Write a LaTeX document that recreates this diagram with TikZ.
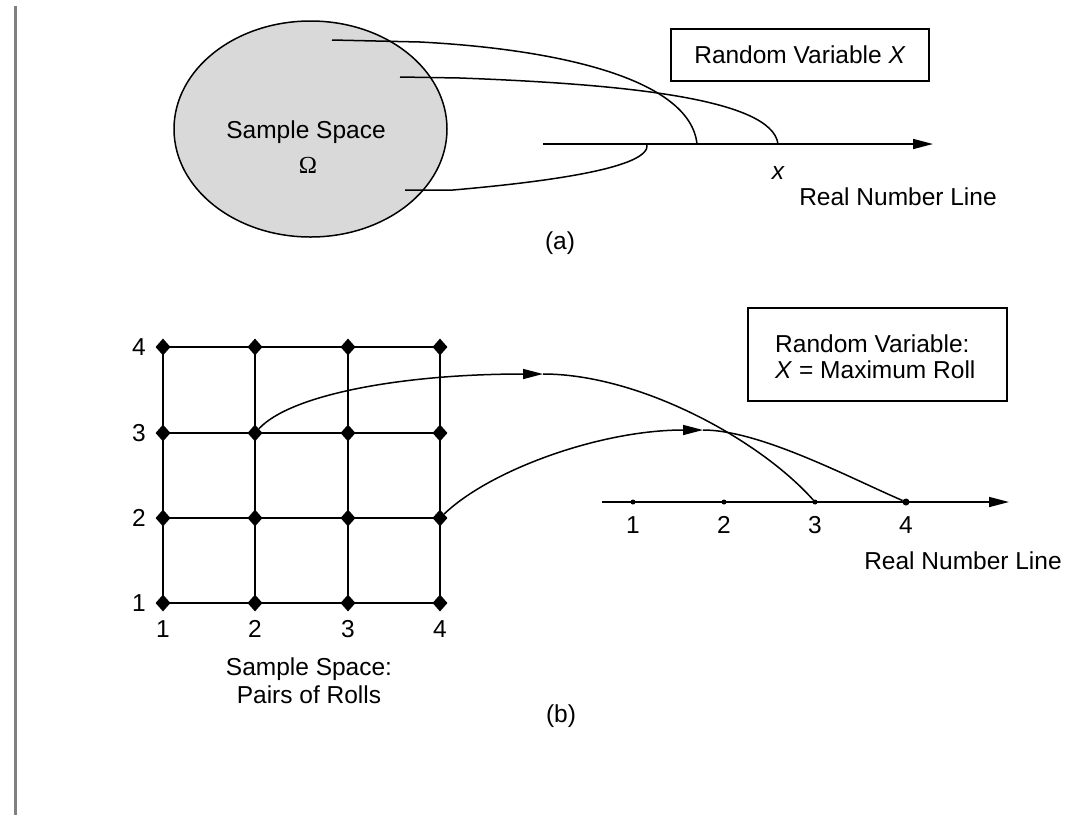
\documentclass[tikz,border=0pt]{standalone}
\usepackage{fontspec}
\setmainfont{Liberation Sans}
\newfontfamily\greekfont{Liberation Serif}
\usetikzlibrary{arrows.meta,shapes.geometric}
\begin{document}
\begin{tikzpicture}[x=1pt,y=-1pt,
  every node/.style={font=\fontsize{24.5}{27}\selectfont, inner sep=0pt},
  thin line/.style={line width=1.5pt},
  grid line/.style={line width=2pt},
  tip/.style={-{Triangle[length=20pt,width=10pt]}},
  label box/.style={draw, line width=1.6pt},
  gridpt/.style={shape=diamond, fill=black, minimum width=15pt, minimum height=17pt},
  tick/.style={shape=circle, fill=black, minimum size=5pt},
  bigtick/.style={shape=circle, fill=black, minimum size=7pt}]
\useasboundingbox (0,0) rectangle (1075,815);

% margin rule on the left
\fill[black!50] (14,6) rectangle (17.3,815);

% ---------------- (a) ----------------
\draw[thin line, fill=black!15] (310.5,129) ellipse [x radius=136.5, y radius=108];
\node[anchor=base] (ss) at (306,138) {Sample Space};
\node[anchor=base] (om) at (308,173) {\greekfont Ω};

% real number line
\coordinate (la) at (543,144);
\coordinate (ra) at (933,144);
\draw[thin line, tip] (la) -- (ra);
\coordinate (xa) at (697,144);
\coordinate (xb) at (778,144);
\coordinate (xc) at (647,144);

% outcomes mapped onto the line
\coordinate (w1) at (332,40);
\coordinate (w2) at (400,77);
\coordinate (w3) at (405,190);
\draw[thin line] (w1) -- (420,42) .. controls (555,49) and (690,78) .. (xa);
\draw[thin line] (w2) -- (460,78) .. controls (620,84) and (772,98) .. (xb);
\draw[thin line] (w3) -- (453,190) .. controls (545,182) and (652,168) .. (xc);

\node[font=\fontsize{24.5}{27}\selectfont\itshape] (xl) at (778,173) {x};
\node (rnla) at (898,197) {Real Number Line};
\node (capa) at (560,243) {(a)};

\node[label box, minimum width=258pt, minimum height=52pt] (rva) at (800,55) {Random Variable \textit{X}};

% ---------------- (b) ----------------
% grid of outcome pairs
\foreach \i/\x in {1/163,2/255,3/348,4/440}{
  \draw[grid line] (\x,347) -- (\x,603);
}
\foreach \j/\y in {1/603,2/518,3/433,4/347}{
  \draw[grid line] (163,\y) -- (440,\y);
}
\foreach \i/\x in {1/163,2/255,3/348,4/440}{
  \foreach \j/\y in {1/603,2/518,3/433,4/347}{
    \node[gridpt] (g\i\j) at (\x,\y) {};
  }
  \node (c\i) at (\x,629) {\i};
}
\foreach \j/\y in {1/603,2/518,3/433,4/347}{
  \node (r\j) at (139,\y) {\j};
}
\node[align=center, font=\fontsize{24.5}{28}\selectfont] (ssb) at (309,681) {Sample Space:\\Pairs of Rolls};

% real number line
\coordinate (lb) at (602,502);
\coordinate (rb) at (1009,502);
\draw[thin line, tip] (lb) -- (rb);
\node[tick] (t1) at (633,502) {};
\node[tick] (t2) at (724,502) {};
\node[tick] (t3) at (815,502) {};
\node[bigtick] (t4) at (906,502) {};
\foreach \k/\x in {1/633,2/724,3/815,4/906}{
  \node (n\k) at (\x,525) {\k};
}
\node (rnlb) at (963,561) {Real Number Line};
\node (capb) at (561,716) {(b)};

% mapping arrows
\coordinate (ma) at (543,374);
\coordinate (mb) at (703,430);
\draw[thin line, tip] (g23) .. controls (290,395) and (400,374) .. (ma);
\draw[thin line] (ma) .. controls (640,374) and (760,440) .. (t3);
\draw[thin line, tip] (g42) .. controls (490,470) and (600,430) .. (mb);
\draw[thin line] (mb) .. controls (760,430) and (850,478) .. (t4);

\node[label box, minimum width=259pt, minimum height=93pt] (rvb) at (877.5,354.5) {};
\node[anchor=base west] (rv1) at (775,352) {Random Variable:};
\node[anchor=base west] (rv2) at (775,378) {\textit{X} = Maximum Roll};
\end{tikzpicture}
\end{document}
